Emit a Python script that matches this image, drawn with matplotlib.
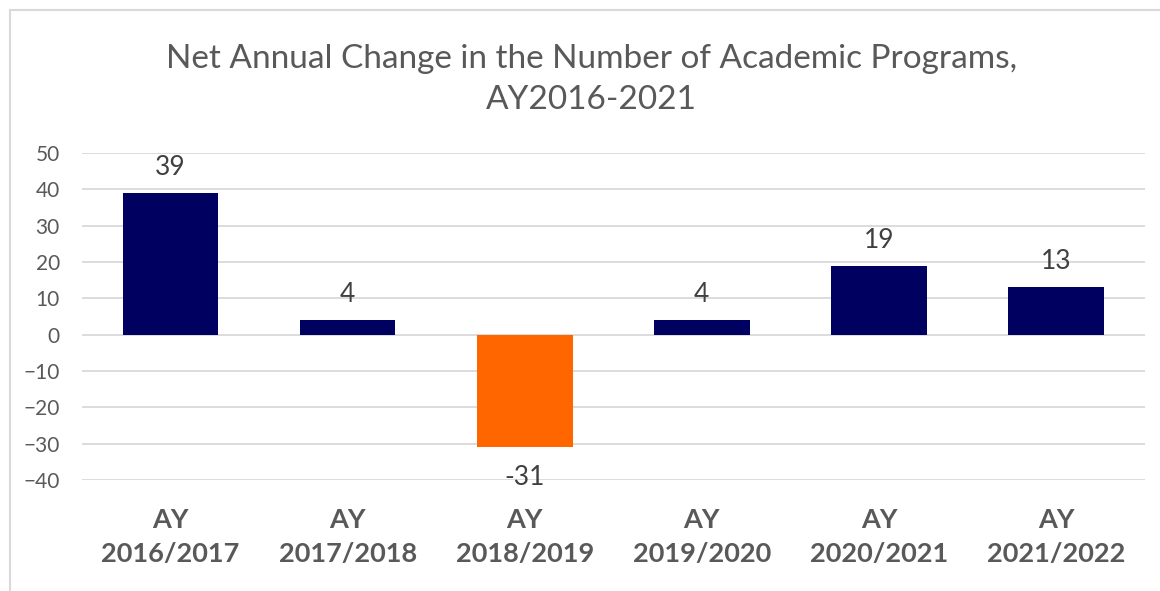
import matplotlib.pyplot as plt
from matplotlib.patches import Rectangle

# data
years = ['AY\n2016/2017', 'AY\n2017/2018', 'AY\n2018/2019',
         'AY\n2019/2020', 'AY\n2020/2021', 'AY\n2021/2022']
net_change = [39, 4, -31, 4, 19, 13]

navy = '#000060'
orange = '#FF6600'
grey = '#595959'
colors = [orange if v < 0 else navy for v in net_change]

plt.rcParams['font.family'] = ['Lato', 'DejaVu Sans']

fig = plt.figure(figsize=(11.6, 5.91), dpi=100)
ax = fig.add_axes([0.0707, 0.188, 0.916, 0.553])

x = range(len(years))
ax.bar(x, net_change, width=0.54, color=colors, zorder=3)

for i, v in enumerate(net_change):
    if v >= 0:
        ax.text(i, v + 3.6, str(v), ha='center', va='bottom', fontsize=19, color='#404040')
    else:
        ax.text(i, v - 4.8, str(v), ha='center', va='top', fontsize=19, color='#404040')

ax.set_xlim(-0.5, len(years) - 0.5)
ax.set_ylim(-40, 50)
ax.set_yticks(range(-40, 51, 10))
ax.grid(axis='y', color='#D9D9D9', linewidth=1.3, zorder=0)
for s in ax.spines.values():
    s.set_visible(False)
ax.tick_params(axis='both', length=0)
ax.tick_params(axis='y', labelsize=15, labelcolor=grey, pad=16)
ax.set_xticks(list(x))
ax.set_xticklabels(years, fontsize=19.5, fontweight='bold', color=grey, linespacing=1.5)
ax.tick_params(axis='x', pad=20)

fig.text(0.51, 0.866, 'Net Annual Change in the Number of Academic Programs,\nAY2016-2021',
         ha='center', va='center', fontsize=24, color=grey, linespacing=1.45)

# outer chart border
fig.patches.append(Rectangle((10 / 1160, -0.05), 1.2, 1 - 10 / 591 + 0.05,
                             transform=fig.transFigure, fill=False,
                             edgecolor='#D9D9D9', linewidth=1.5))

fig.savefig('out.png', dpi=100)
